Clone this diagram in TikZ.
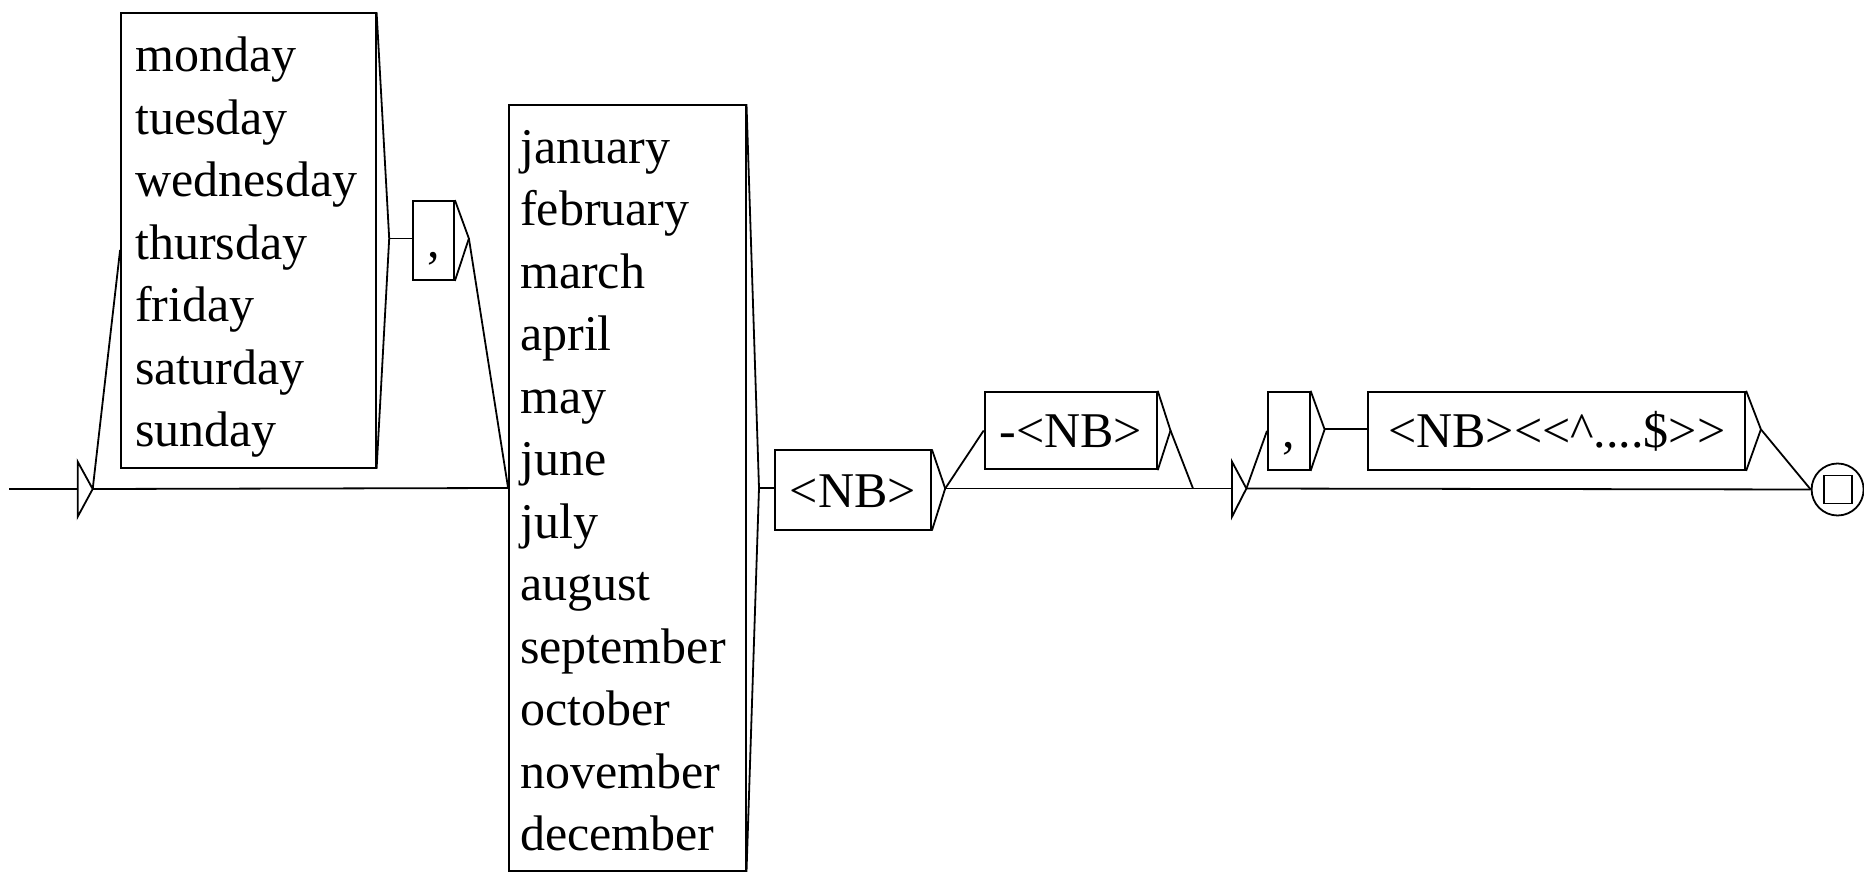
\documentclass[tikz,border=0pt]{standalone}
\usepackage{fontspec}
\setmainfont{Liberation Serif}
\usetikzlibrary{calc}
\tikzset{
  ln/.style={line width=1.8pt, line join=miter},
  gbox/.style={ln, draw, rectangle, inner sep=0pt},
  btext/.style={font=\fontsize{50}{62.5}\selectfont, text height=34pt, text depth=0pt},
  ltext/.style={font=\fontsize{50}{62.5}\selectfont, inner sep=0pt, anchor=base west},
  fstate/.style={ln, draw, circle, minimum size=52pt, inner sep=0pt},
}
\newcommand{\lt}{\textless\kern0pt}
\newcommand{\gt}{\textgreater\kern0pt}
\begin{document}
\begin{tikzpicture}[x=1pt, y=-1pt]
\useasboundingbox (0,0) rectangle (1864,872);

% initial state
\coordinate (initin) at (9,489);
\coordinate (initl) at (77.7,489);
\coordinate (inito) at (92.7,489);
\draw[ln] (initin) -- (initl);
\draw[ln] (77.7,461.7) -- (inito) -- (77.7,516.7) -- cycle;

% days box
\node[gbox, minimum width=254.7pt, minimum height=454.4pt] (days) at (248.35,240.5) {};
\foreach \w [count=\i from 0] in {monday,tuesday,wednesday,thursday,friday,saturday,sunday}
  \node[ltext] (day\i) at (135,71.7+\i*62.5) {\w};
\coordinate (daysi) at ($(days.west)+(0,9.5)$);
\coordinate (dayso) at ($(days.east)+(12.6,-2)$);
\draw[ln] (days.north east) -- (dayso) -- (days.south east);

% comma 1
\node[gbox, btext, minimum width=41.3pt, minimum height=79pt] (comma1) at (433.35,240.5) {,};
\coordinate (comma1o) at ($(comma1.east)+(14,-2)$);
\draw[ln] (comma1.north east) -- (comma1o) -- (comma1.south east);

% months box
\node[gbox, minimum width=236.6pt, minimum height=766pt] (months) at (627.3,488) {};
\foreach \w [count=\i from 0] in {january,february,march,april,may,june,july,august,september,october,november,december}
  \node[ltext] (mon\i) at (520,163.5+\i*62.45) {\w};
\coordinate (monthso) at ($(months.east)+(12.5,0)$);
\draw[ln] (months.north east) -- (monthso) -- (months.south east);

% <NB>
\node[gbox, btext, minimum width=156.4pt, minimum height=79.3pt] (nb) at (852.8,490) {\lt NB\gt};
\coordinate (nbo) at ($(nb.east)+(13.3,-1.5)$);
\draw[ln] (nb.north east) -- (nbo) -- (nb.south east);

% -<NB>
\node[gbox, btext, minimum width=172.2pt, minimum height=77.6pt] (mnb) at (1070.7,430.5) {-\lt NB\gt};
\coordinate (mnbo) at ($(mnb.east)+(12.8,0)$);
\draw[ln] (mnb.north east) -- (mnbo) -- (mnb.south east);

% epsilon
\coordinate (epsi) at (1193,488.5);
\coordinate (epsl) at (1232,488.5);
\coordinate (epso) at (1246.4,488.5);
\draw[ln] (epsi) -- (epsl);
\draw[ln] (1232,461.7) -- (epso) -- (1232,516.7) -- cycle;

% comma 2
\node[gbox, btext, minimum width=41.8pt, minimum height=78.3pt] (comma2) at (1288.8,430.85) {,};
\coordinate (comma2o) at ($(comma2.east)+(14,-1.5)$);
\draw[ln] (comma2.north east) -- (comma2o) -- (comma2.south east);

% big box
\node[gbox, btext, minimum width=376.9pt, minimum height=78.3pt] (big) at (1556.75,430.85) {\lt NB\gt\lt\lt\textasciicircum\kern0pt....\$\gt\gt};
\coordinate (bigo) at ($(big.east)+(14.8,-1.5)$);
\draw[ln] (big.north east) -- (bigo) -- (big.south east);

% final state
\node[fstate] (final) at (1837.6,489.5) {};
\node[ln, draw, rectangle, minimum size=28pt, inner sep=0pt] (finalsq) at (final.center) {};

% transitions
\draw[ln] (inito) -- (daysi);
\draw[ln] (inito) -- (months.west);
\draw[ln] (dayso) -- (comma1.west |- dayso);
\draw[ln] (comma1o) -- (months.west);
\draw[ln] (monthso) -- (nb.west |- monthso);
\draw[ln] (nbo) -- (mnb.west);
\draw[ln] (nbo) -- (epsi);
\draw[ln] (mnbo) -- (epsi);
\draw[ln] (epso) -- (comma2.west);
\draw[ln] (epso) -- (final.west);
\draw[ln] (comma2o) -- (big.west |- comma2o);
\draw[ln] (bigo) -- (final.west);
\end{tikzpicture}
\end{document}
